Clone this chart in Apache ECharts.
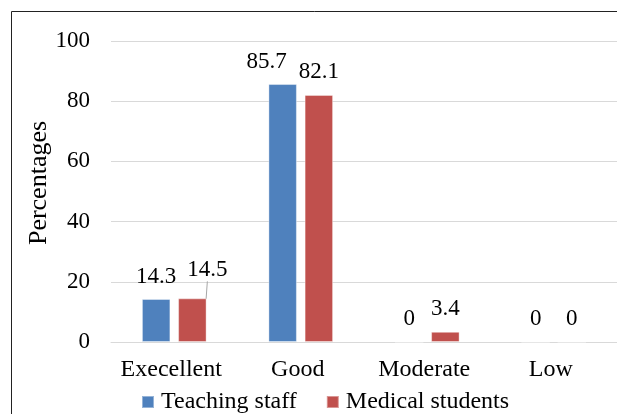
<!DOCTYPE html>
<html>
<head>
<meta charset="utf-8">
<script src="https://cdn.jsdelivr.net/npm/echarts@6/dist/echarts.min.js"></script>
<style>
  html, body { margin: 0; padding: 0; background: #fff; }
  #chart { width: 617px; height: 414px; }
</style>
</head>
<body>
<div id="chart"></div>
<script>
var categories = ['Execellent', 'Good', 'Moderate', 'Low']
var teachingStaff = [14.3, 85.7, 0, 0]
var medicalStudents = [14.5, 82.1, 3.4, 0]
var seriesNames = ['Teaching staff', 'Medical students']
var yTicks = { min: 0, max: 100, interval: 20 }

var font = '"Liberation Serif", "Times New Roman", serif'
var chart = echarts.init(document.getElementById('chart'))

// 85.7 label sits a bit left of its bar in the original
var staffData = teachingStaff.map(function (v, i) {
  if (i === 1) return { value: v, label: { offset: [-16, 0] } }
  return v
})
// 14.5 label is pulled up-right with a leader line
var studentData = medicalStudents.map(function (v, i) {
  if (i === 0) return { value: v, labelLine: { show: true, lineStyle: { color: '#a6a6a6', width: 1 } } }
  return v
})

var labelStyle = {
  show: true,
  position: 'top',
  distance: 11,
  fontFamily: font,
  fontSize: 23,
  color: '#000'
}

var option = {
  animation: false,
  textStyle: { fontFamily: font },
  graphic: [
    {
      type: 'rect',
      shape: { x: 11.5, y: 11.5, width: 700, height: 500 },
      style: { fill: null, stroke: '#222', lineWidth: 1 },
      silent: true
    },
    // y axis title, a little above the plot middle like the original
    {
      type: 'text',
      x: 39,
      y: 183,
      rotation: Math.PI / 2,
      style: {
        text: 'Percentages',
        font: '26px ' + font,
        fill: '#000',
        align: 'center',
        verticalAlign: 'middle'
      },
      silent: true
    }
  ],
  legend: {
    data: seriesNames,
    left: 141,
    top: 390,
    padding: 0,
    itemWidth: 12,
    itemHeight: 12,
    itemGap: 29,
    icon: 'rect',
    textStyle: { fontFamily: font, fontSize: 24, color: '#000', padding: [0, 0, 0, 2] }
  },
  grid: { left: 111, top: 41, width: 510, bottom: 72 },
  xAxis: {
    type: 'category',
    data: categories,
    axisLine: { lineStyle: { color: '#d9d9d9', width: 1 } },
    axisTick: { show: false },
    axisLabel: { interval: 0, hideOverlap: false, fontFamily: font, fontSize: 24, color: '#000', margin: 16, padding: [0, 6, 0, 0] }
  },
  yAxis: {
    type: 'value',
    min: yTicks.min,
    max: yTicks.max,
    interval: yTicks.interval,
    axisLine: { show: false },
    axisTick: { show: false },
    splitLine: { lineStyle: { color: '#d9d9d9', width: 1 } },
    axisLabel: { fontFamily: font, fontSize: 23, color: '#000', margin: 21 }
  },
  series: [
    {
      name: seriesNames[0],
      type: 'bar',
      data: staffData,
      barWidth: 28.5,
      barGap: '27%',
      itemStyle: { color: '#4f81bd', borderColor: 'rgba(255,255,255,0.4)', borderWidth: 1 },
      label: labelStyle
    },
    {
      name: seriesNames[1],
      type: 'bar',
      data: studentData,
      barWidth: 28.5,
      barGap: '27%',
      itemStyle: { color: '#c0504d', borderColor: 'rgba(255,255,255,0.4)', borderWidth: 1 },
      label: labelStyle,
      labelLayout: function (params) {
        if (params.dataIndex === 0) return { dx: 15, dy: -6 }
        return {}
      }
    }
  ]
}

chart.setOption(option)
</script>
</body>
</html>
